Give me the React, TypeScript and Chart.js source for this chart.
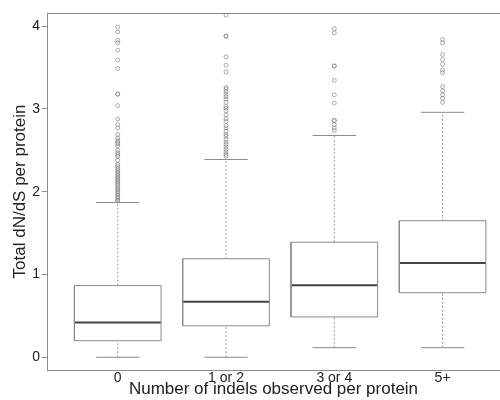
import React, { useEffect, useRef } from "react";
import { Chart, registerables } from "chart.js";

Chart.register(...registerables);

const categories = ["0", "1 or 2", "3 or 4", "5+"];
const lowerWhisker = [0, 0, 0.116, 0.116];
const q1 = [0.2, 0.38, 0.487, 0.78];
const median = [0.42, 0.67, 0.87, 1.14];
const q3 = [0.866, 1.19, 1.39, 1.65];
const upperWhisker = [1.87, 2.39, 2.68, 2.96];

const outliers0 = [3.99, 3.93, 3.83, 3.8, 3.71, 3.59, 3.49, 3.18, 3.18, 3.04, 2.88, 2.81, 2.77, 2.69, 2.65, 2.62, 2.6, 2.58, 2.55, 2.5, 2.47, 2.45, 2.43, 2.38, 2.33, 2.31, 2.28, 2.26, 2.24, 2.22, 2.2, 2.18, 2.16, 2.14, 2.12, 2.1, 2.08, 2.06, 2.04, 2.02, 2.0, 1.98, 1.96, 1.94, 1.92, 1.9, 1.89];
const outliers1 = [4.135, 3.88, 3.88, 3.63, 3.53, 3.45, 3.26, 3.24, 3.21, 3.18, 3.15, 3.12, 3.08, 3.03, 3.01, 2.98, 2.93, 2.88, 2.85, 2.8, 2.77, 2.73, 2.69, 2.67, 2.63, 2.6, 2.57, 2.54, 2.51, 2.48, 2.45, 2.43];
const outliers2 = [3.97, 3.92, 3.52, 3.52, 3.345, 3.17, 3.07, 2.86, 2.86, 2.81, 2.77, 2.74];
const outliers3 = [3.84, 3.8, 3.66, 3.6, 3.54, 3.47, 3.44, 3.27, 3.22, 3.17, 3.13, 3.08];
const outlierGroups = [outliers0, outliers1, outliers2, outliers3];

const yTicks = [0, 1, 2, 3, 4];
const yTitle = "Total dN/dS per protein";
const xTitle = "Number of indels observed per protein";

const BOX_HALF = 0.4;
const CAP_HALF = 0.2;

type P = { x: number; y: number | null };

export default function App() {
  const ref = useRef<HTMLCanvasElement>(null);

  useEffect(() => {
    if (!ref.current) return;
    const boxes: P[] = [];
    const meds: P[] = [];
    const whisk: P[] = [];
    const caps: P[] = [];
    const outs: P[] = [];
    categories.forEach((_, i) => {
      const c = i + 1;
      boxes.push(
        { x: c - BOX_HALF, y: q1[i] },
        { x: c + BOX_HALF, y: q1[i] },
        { x: c + BOX_HALF, y: q3[i] },
        { x: c - BOX_HALF, y: q3[i] },
        { x: c - BOX_HALF, y: q1[i] },
        { x: c, y: null }
      );
      meds.push({ x: c - BOX_HALF, y: median[i] }, { x: c + BOX_HALF, y: median[i] }, { x: c, y: null });
      whisk.push(
        { x: c, y: q3[i] },
        { x: c, y: upperWhisker[i] },
        { x: c, y: null },
        { x: c, y: lowerWhisker[i] },
        { x: c, y: q1[i] },
        { x: c, y: null }
      );
      caps.push(
        { x: c - CAP_HALF, y: upperWhisker[i] },
        { x: c + CAP_HALF, y: upperWhisker[i] },
        { x: c, y: null },
        { x: c - CAP_HALF, y: lowerWhisker[i] },
        { x: c + CAP_HALF, y: lowerWhisker[i] },
        { x: c, y: null }
      );
      outlierGroups[i].forEach((v) => outs.push({ x: c, y: v }));
    });

    const lineDs = (label: string, data: P[], color: string, width: number, dash: number[]) => ({
      type: "scatter" as const,
      label,
      data,
      showLine: true,
      borderColor: color,
      borderWidth: width,
      borderDash: dash,
      pointRadius: 0,
      fill: false,
      spanGaps: false,
      tension: 0,
    });

    const font = "'Liberation Sans', Arial, Helvetica, sans-serif";
    const axisColor = "#8c8c8c";
    const textColor = "#222";

    const chart = new Chart(ref.current, {
      type: "scatter",
      data: {
        datasets: [
          lineDs("whiskers", whisk, "#9a9a9a", 1, [2, 2]),
          lineDs("caps", caps, "#8a8a8a", 1, []),
          lineDs("boxes", boxes, "#8a8a8a", 1, []),
          lineDs("medians", meds, "#444", 2, []),
          {
            type: "scatter" as const,
            label: "outliers",
            data: outs,
            pointRadius: 2,
            pointBorderWidth: 1,
            pointBorderColor: "rgba(110,110,110,0.55)",
            pointBackgroundColor: "rgba(0,0,0,0)",
            showLine: false,
          },
        ] as any,
      },
      options: {
        animation: false,
        responsive: false,
        maintainAspectRatio: false,
        layout: { autoPadding: false, padding: { top: 13, right: 0, left: 0, bottom: 0 } },
        plugins: { legend: { display: false }, tooltip: { enabled: false } },
        scales: {
          x: {
            type: "linear",
            position: "bottom",
            min: 0.347,
            max: 4.53,
            afterBuildTicks: (s: any) => {
              s.ticks = categories.map((_, i) => ({ value: i + 1 }));
            },
            afterFit: (s: any) => {
              s.height = 30;
            },
            ticks: {
              callback: (v: any) => categories[Math.round(Number(v)) - 1] ?? "",
              font: { family: font, size: 14 },
              color: textColor,
              padding: 0,
              maxRotation: 0,
              autoSkip: false,
            },
            grid: { display: true, drawOnChartArea: false, drawTicks: false, color: axisColor },
            border: { display: true, color: axisColor, width: 1 },
            title: {
              display: true,
              text: xTitle,
              font: { family: font, size: 17 },
              color: textColor,
              padding: { top: 0, bottom: 0 },
            },
          },
          x2: {
            type: "linear",
            position: "top",
            min: 0.347,
            max: 4.53,
            ticks: { display: false },
            afterFit: (s: any) => {
              s.height = 0;
            },
            grid: { display: true, drawOnChartArea: false, drawTicks: false, color: axisColor },
            border: { display: true, color: axisColor, width: 1 },
          },
          y: {
            type: "linear",
            min: -0.154,
            max: 4.16,
            afterBuildTicks: (s: any) => {
              s.ticks = yTicks.map((v) => ({ value: v }));
            },
            afterFit: (s: any) => {
              s.width = 47;
            },
            ticks: {
              font: { family: font, size: 14 },
              color: textColor,
              padding: 2,
            },
            grid: { display: true, drawOnChartArea: false, drawTicks: true, tickLength: 5, color: axisColor },
            border: { display: true, color: axisColor, width: 1 },
            title: {
              display: true,
              text: yTitle,
              font: { family: font, size: 17 },
              color: textColor,
              padding: { top: 10, bottom: 0 },
            },
          },
        },
      } as any,
    });
    return () => chart.destroy();
  }, []);

  return (
    <div style={{ position: "fixed", left: 0, top: 0, width: 500, height: 400, background: "#fff" }}>
      <canvas ref={ref} width={500} height={400} style={{ width: 500, height: 400 }} />
    </div>
  );
}
